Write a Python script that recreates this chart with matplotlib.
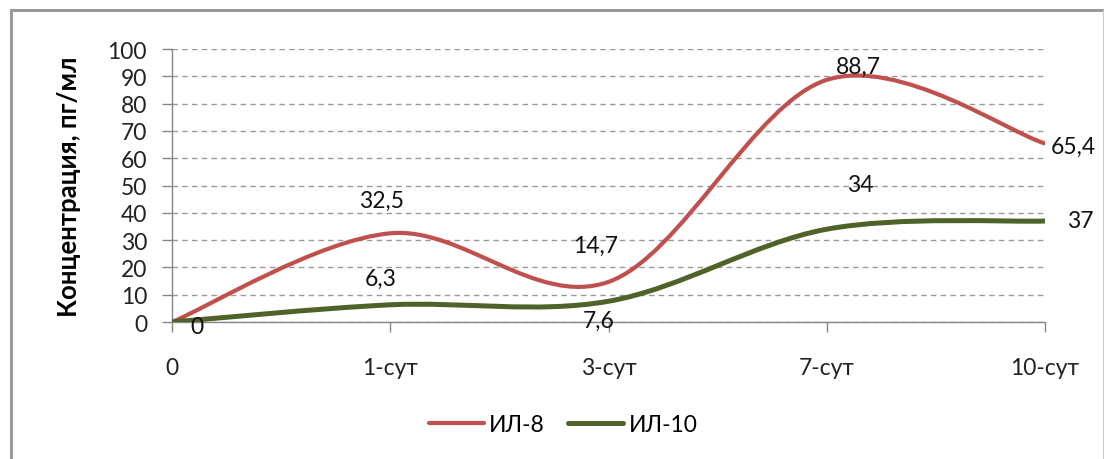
import matplotlib
matplotlib.use("Agg")
import matplotlib.pyplot as plt
from matplotlib.path import Path
from matplotlib.patches import PathPatch
from matplotlib.lines import Line2D

plt.rcParams['font.family'] = ['Lato', 'DejaVu Sans']

days = ["0", "1-сут", "3-сут", "7-сут", "10-сут"]
il8 = [0, 32.5, 14.7, 88.7, 65.4]
il10 = [0, 6.3, 7.6, 34, 37]
il8_labels = ["0", "32,5", "14,7", "88,7", "65,4"]
il10_labels = ["0", "6,3", "7,6", "34", "37"]

RED = "#C0504D"
GREEN = "#4F6228"
FS = 16.5


def smooth_path(xs, ys):
    # bezier segments through every point, tangents from the neighbours (excel-style smoothing)
    pts = list(zip(xs, ys))
    n = len(pts)
    verts = [pts[0]]
    codes = [Path.MOVETO]
    for i in range(n - 1):
        p0 = pts[max(i - 1, 0)]
        p1 = pts[i]
        p2 = pts[i + 1]
        p3 = pts[min(i + 2, n - 1)]
        c1 = (p1[0] + (p2[0] - p0[0]) / 6, p1[1] + (p2[1] - p0[1]) / 6)
        c2 = (p2[0] - (p3[0] - p1[0]) / 6, p2[1] - (p3[1] - p1[1]) / 6)
        verts += [c1, c2, p2]
        codes += [Path.CURVE4] * 3
    return Path(verts, codes)


fig = plt.figure(figsize=(11.04, 4.6), dpi=100)
ax = fig.add_axes([0.1558, 0.2978, 0.7908, 0.5935])

x = list(range(len(days)))
ax.add_patch(PathPatch(smooth_path(x, il8), fill=False, edgecolor=RED, lw=3.0,
                       capstyle="round", zorder=3))
ax.add_patch(PathPatch(smooth_path(x, il10), fill=False, edgecolor=GREEN, lw=3.6,
                       capstyle="round", zorder=4))

ax.set_xlim(0, 4)
ax.set_ylim(0, 100)
ax.set_xticks(x)
ax.set_xticklabels(days)
ax.set_yticks(range(0, 101, 10))
ax.tick_params(axis="y", length=7, width=1, color="#868686", pad=11, labelsize=FS, labelcolor="#222222")
ax.tick_params(axis="x", length=7, width=1, color="#868686", pad=18, labelsize=FS, labelcolor="#222222")
ax.grid(axis="y", color="#999999", linestyle=(0, (4, 3)), lw=1)
ax.set_axisbelow(True)
for s in ["top", "right"]:
    ax.spines[s].set_visible(False)
for s in ["left", "bottom"]:
    ax.spines[s].set_color("#868686")
    ax.spines[s].set_linewidth(1)
ax.spines["bottom"].set_zorder(2.5)

ax.set_ylabel("Концентрация, пг/мл", fontsize=18.5, fontweight="bold")
ax.yaxis.set_label_coords(-0.104, 0.5)

# data labels, offsets in points from each point
il8_off = [(18, -3), (-6, 24), (-9, 26), (23, 10), (4, -2)]
il10_off = [(18, -3), (-7, 19), (-7, -14), (24, 32), (25, 0)]
il8_ha = ["center", "center", "center", "center", "left"]
il10_ha = ["center", "center", "center", "center", "center"]
for xi, v, t, off, ha in zip(x, il8, il8_labels, il8_off, il8_ha):
    ax.annotate(t, (xi, v), xytext=off, textcoords="offset points", ha=ha, va="center",
                fontsize=FS, color="#111111", annotation_clip=False, zorder=5)
for xi, v, t, off, ha in zip(x, il10, il10_labels, il10_off, il10_ha):
    if xi == 0:
        continue
    ax.annotate(t, (xi, v), xytext=off, textcoords="offset points", ha=ha, va="center",
                fontsize=FS, color="#111111", annotation_clip=False, zorder=5)

handles = [Line2D([], [], color=RED, lw=3.0, solid_capstyle="round"),
           Line2D([], [], color=GREEN, lw=3.6, solid_capstyle="round")]
fig.legend(handles, ["ИЛ-8", "ИЛ-10"], loc="center", bbox_to_anchor=(0.51, 0.076),
           ncol=2, frameon=False, fontsize=FS, handlelength=2.4, handletextpad=0.25,
           columnspacing=1.0)

# chart frame
fig.add_artist(Line2D([11 / 1104, 11 / 1104], [0, 1 - 11 / 460], color="#9a9a9a", lw=2.2))
fig.add_artist(Line2D([11 / 1104, 1103 / 1104], [1 - 11 / 460, 1 - 11 / 460], color="#9a9a9a", lw=2.2))
fig.add_artist(Line2D([1102.5 / 1104, 1102.5 / 1104], [0, 1 - 11 / 460], color="#c8c8c8", lw=0.8))

fig.savefig("out.png", dpi=100)
